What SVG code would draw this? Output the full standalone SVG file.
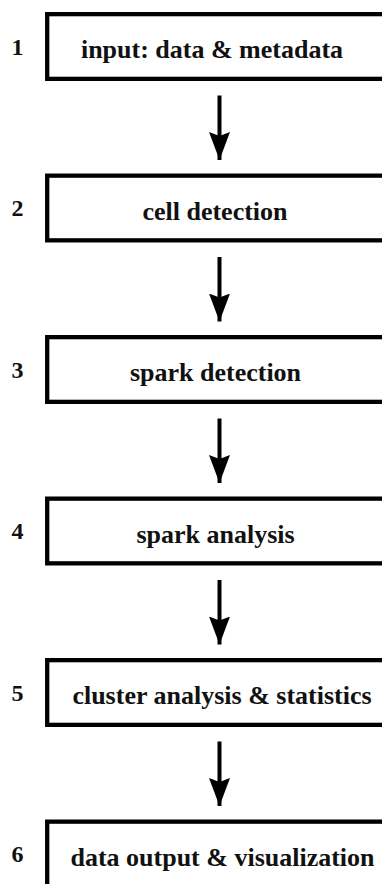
<svg xmlns="http://www.w3.org/2000/svg" width="382" height="884" viewBox="0 0 382 884">
<style>
.box{fill:#fff;stroke:#000;stroke-width:4.3}
.lbl{font-family:"Liberation Serif","Times New Roman",serif;font-weight:bold;font-size:26px;fill:#111;text-anchor:middle}
.num{font-family:"Liberation Serif","Times New Roman",serif;font-weight:bold;font-size:24px;fill:#111;text-anchor:middle}
.conn{stroke:#000;stroke-width:4;fill:none}
</style>
<defs>
<marker id="ah" markerUnits="userSpaceOnUse" viewBox="0 0 28 22" markerWidth="28" markerHeight="22" refX="28" refY="11" orient="auto">
<path d="M0,0.5 L28,11 L0,21.5 L4,11 Z" fill="#000"/>
</marker>
</defs>
<rect width="382" height="884" fill="#fff"/>
<g id="node1"><rect class="box" x="47.2" y="14.15" width="345" height="64.7"/><text class="num" x="17.5" y="54.5">1</text><text class="lbl" x="212" y="58.3">input: data &amp; metadata</text></g>
<g id="node2"><rect class="box" x="47.2" y="175.65" width="345" height="64.7"/><text class="num" x="17.5" y="216">2</text><text class="lbl" x="215" y="219.8">cell detection</text></g>
<g id="node3"><rect class="box" x="47.2" y="337.15" width="345" height="64.7"/><text class="num" x="17.5" y="377.5">3</text><text class="lbl" x="215.5" y="381.3">spark detection</text></g>
<g id="node4"><rect class="box" x="47.2" y="498.65" width="345" height="64.7"/><text class="num" x="17.5" y="539">4</text><text class="lbl" x="215.5" y="542.8">spark analysis</text></g>
<g id="node5"><rect class="box" x="47.2" y="660.15" width="345" height="64.7"/><text class="num" x="17.5" y="700.5">5</text><text class="lbl" x="222" y="704.3">cluster analysis &amp; statistics</text></g>
<g id="node6"><rect class="box" x="47.2" y="821.65" width="345" height="64.7"/><text class="num" x="17.5" y="862">6</text><text class="lbl" x="222.5" y="865.8">data output &amp; visualization</text></g>
<g id="connectors">
<line class="conn" x1="219.5" y1="95.5" x2="219.5" y2="160" marker-end="url(#ah)"/>
<line class="conn" x1="219.5" y1="257" x2="219.5" y2="321.5" marker-end="url(#ah)"/>
<line class="conn" x1="219.5" y1="418.5" x2="219.5" y2="483" marker-end="url(#ah)"/>
<line class="conn" x1="219.5" y1="580" x2="219.5" y2="644.5" marker-end="url(#ah)"/>
<line class="conn" x1="219.5" y1="741.5" x2="219.5" y2="806" marker-end="url(#ah)"/>
</g>
</svg>
